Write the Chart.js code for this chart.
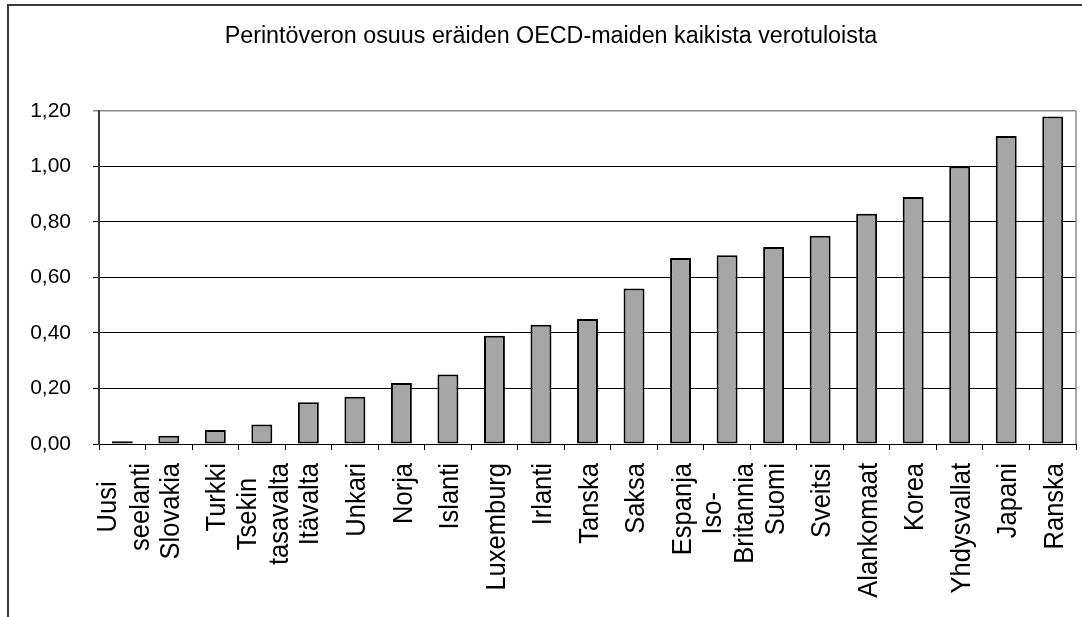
<!DOCTYPE html>
<html>
<head>
<meta charset="utf-8">
<script src="https://cdn.jsdelivr.net/npm/chart.js@4/dist/chart.umd.min.js"></script>
<style>
  html, body { margin: 0; padding: 0; background: #fff; overflow: hidden; }
  #wrap { position: relative; width: 1082px; height: 617px; overflow: hidden; }
  #frame { position: absolute; left: 7px; top: 4px; width: 2000px; height: 2000px; border: 2px solid #3a3a3a; }
  #chart { position: absolute; left: 0; top: 0; }
</style>
</head>
<body>
<div id="wrap">
  <div id="frame"></div>
  <canvas id="chart" width="1082" height="617"></canvas>
</div>
<script>
// --- Data ---
const chartTitle = 'Perintöveron osuus eräiden OECD-maiden kaikista verotuloista';
const countries = [
  ['Uusi', 'seelanti'], 'Slovakia', 'Turkki', ['Tsekin', 'tasavalta'], 'Itävalta',
  'Unkari', 'Norja', 'Islanti', 'Luxemburg', 'Irlanti', 'Tanska', 'Saksa', 'Espanja',
  ['Iso-', 'Britannia'], 'Suomi', 'Sveitsi', 'Alankomaat', 'Korea', 'Yhdysvallat',
  'Japani', 'Ranska'
];
const shares = [
  0.01, 0.03, 0.05, 0.07, 0.15, 0.17, 0.22, 0.25, 0.39, 0.43, 0.45,
  0.56, 0.67, 0.68, 0.71, 0.75, 0.83, 0.89, 1.00, 1.11, 1.18
];
const yMin = 0;
const yMax = 1.2;
const yStep = 0.2;

const FONT = '"Liberation Sans", Arial, sans-serif';

// Helper: Finnish decimal comma
function fiNumber(v) {
  return v.toFixed(2).replace('.', ',');
}

// Right edge of plot area (grey, like the top line)
const plotBorder = {
  id: 'plotBorder',
  afterDraw(chart) {
    const { ctx, chartArea } = chart;
    ctx.save();
    ctx.strokeStyle = '#8a8a8a';
    ctx.lineWidth = 1.5;
    ctx.beginPath();
    ctx.moveTo(chartArea.right, chartArea.top);
    ctx.lineTo(chartArea.right, chartArea.bottom);
    ctx.stroke();
    ctx.restore();
  }
};

// Vertical category labels, lines centred within each label block
const verticalLabels = {
  id: 'verticalLabels',
  afterDraw(chart) {
    const { ctx } = chart;
    const xs = chart.scales.x;
    const size = 25.5;
    const stretch = 1.1;   // glyphs are a bit taller across in the original
    const lineGap = 32.5;
    const top = xs.top + 19;
    ctx.save();
    ctx.font = size + 'px ' + FONT;
    ctx.fillStyle = '#000';
    ctx.textAlign = 'center';
    ctx.textBaseline = 'alphabetic';
    countries.forEach((lab, i) => {
      const lines = Array.isArray(lab) ? lab : [lab];
      const maxW = Math.max(...lines.map(l => ctx.measureText(l).width));
      const x = xs.getPixelForValue(i);
      ctx.save();
      ctx.translate(x, top + maxW / 2);
      ctx.rotate(-Math.PI / 2);
      ctx.scale(1, stretch);
      lines.forEach((l, j) => {
        const off = (j - (lines.length - 1) / 2) * lineGap + size * stretch * 0.36;
        ctx.fillText(l, 0, off / stretch);
      });
      ctx.restore();
    });
    ctx.restore();
  }
};

const chart = new Chart(document.getElementById('chart'), {
  type: 'bar',
  data: {
    labels: countries,
    datasets: [{
      data: shares,
      backgroundColor: '#a6a6a6',
      borderColor: '#000',
      borderWidth: 2,
      borderSkipped: false,
      barPercentage: 0.45,
      categoryPercentage: 1
    }]
  },
  options: {
    responsive: false,
    animation: false,
    layout: { padding: { left: 26, right: 6, top: 0, bottom: 0 } },
    plugins: {
      legend: { display: false },
      tooltip: { enabled: false },
      title: {
        display: true,
        text: chartTitle,
        color: '#000',
        font: { family: FONT, size: 23.3, weight: 'normal', lineHeight: 1.2 },
        padding: { top: 23, bottom: 60 }
      }
    },
    scales: {
      x: {
        offset: true,
        grid: {
          display: true,
          drawOnChartArea: false,
          drawTicks: true,
          tickLength: 6,
          color: '#000',
          lineWidth: 1
        },
        border: { display: true, color: '#000', width: 1 },
        ticks: { display: false },
        afterFit(scale) { scale.height = 617 - 444; }
      },
      y: {
        min: yMin,
        max: yMax,
        ticks: {
          stepSize: yStep,
          color: '#000',
          padding: 22,
          font: { family: FONT, size: 21 },
          callback: (v) => fiNumber(v)
        },
        grid: {
          color: (c) => (c.tick && Math.abs(c.tick.value - yMax) < 1e-6) ? '#8a8a8a' : '#000',
          lineWidth: (c) => (c.tick && Math.abs(c.tick.value - yMax) < 1e-6) ? 1.5 : 1,
          tickLength: 6
        },
        border: { display: true, color: '#3a3a3a', width: 2 },
        afterFit(scale) { scale.width = 99 - 26; }
      }
    }
  },
  plugins: [plotBorder, verticalLabels]
});
</script>
</body>
</html>
